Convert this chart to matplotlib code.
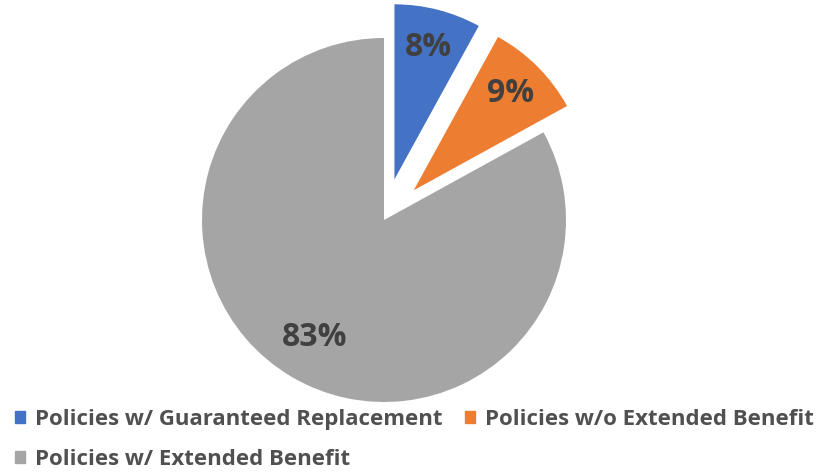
import matplotlib.pyplot as plt
from matplotlib.patches import Patch

labels = ['Policies w/ Guaranteed Replacement', 'Policies w/o Extended Benefit',
          'Policies w/ Extended Benefit']
shares = [8, 9, 83]
colors = ['#4472C4', '#ED7D31', '#A5A5A5']
explode = [42, 42, 0]

W, H = 829, 473


def main():
    fig = plt.figure(figsize=(W / 100, H / 100), dpi=100)
    ax = fig.add_axes([0, 0, 1, 1])

    wedges, texts, autotexts = ax.pie(
        shares, colors=colors, explode=explode, startangle=90,
        counterclock=False, radius=182, center=(384, H - 220),
        autopct='%d%%', pctdistance=0.75,
        textprops=dict(color='#404040', fontsize=23, fontweight='bold',
                       family='Open Sans'))
    for w in wedges[:2]:
        w.set_radius(175)

    ax.set_xlim(0, W)
    ax.set_ylim(0, H)
    ax.set_aspect('equal')
    ax.axis('off')

    handles = [Patch(color=colors[0]), Patch(color=colors[2]), Patch(color=colors[1])]
    names = [labels[0], labels[2], labels[1]]
    fig.legend(handles, names, ncol=2, loc='upper left',
               bbox_to_anchor=(15 / W, 1 - 409 / H),
               frameon=False, handlelength=0.45, handleheight=0.45, handletextpad=0.45,
               columnspacing=1.0, labelspacing=0.85, borderaxespad=0, borderpad=0,
               prop=dict(family='Open Sans', weight='bold', size=16),
               labelcolor='#505050')

    fig.savefig('out.png', dpi=100)


if __name__ == "__main__":
    main()
